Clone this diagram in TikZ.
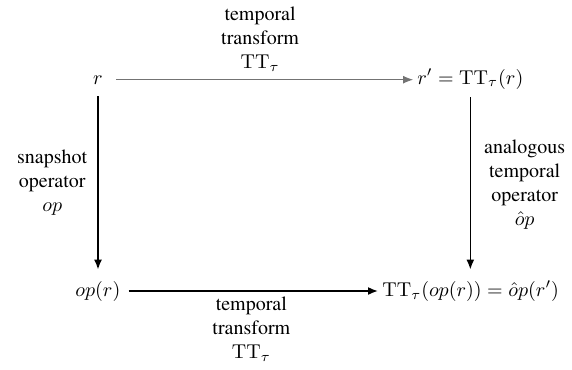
\documentclass[tikz,border=0pt]{standalone}
\usepackage[T1]{fontenc}
\usepackage{times}
\usetikzlibrary{arrows.meta}

\begin{document}
\begin{tikzpicture}[
  x=0.5pt, y=-0.5pt,
  obj/.style={inner sep=2pt, anchor=base},
  lbl/.style={align=center, inner sep=2pt},
  arr/.style={-{Latex[length=5pt,width=4pt]}, line width=0.8pt},
  faintarr/.style={-{Latex[length=5pt,width=4pt]}, line width=0.4pt, draw=black!55, fill=black}]

\useasboundingbox (0,0) rectangle (572,369);

% corners of the square
\node[obj] (r) at (98,84) {$r$};
\node[obj, anchor=base west] (rp) at (413,84) {$r' = \mathrm{TT}_\tau(r)$};
\node[obj, anchor=base west] (opr) at (71,296) {$op(r)$};
\node[obj, anchor=base west] (tto) at (378,296) {$\mathrm{TT}_\tau(op(r)) = \hat{o}p(r')$};

% maps
\draw[faintarr, shorten <=4.5pt] (r.east) -- (r.east -| rp.west)
  node[midway, above=2pt, lbl] {temporal\\transform\\$\mathrm{TT}_\tau$};
\draw[arr, shorten <=2pt] (opr.east) -- (opr.east -| tto.west)
  node[midway, below=0.5pt, lbl] {temporal\\transform\\$\mathrm{TT}_\tau$};
\draw[arr, shorten <=4pt, shorten >=3.5pt] (r.south) -- (r.south |- opr.north)
  node[midway, left=3pt, lbl] {snapshot\\operator\\$op$};
\draw[arr, shorten <=2pt, shorten >=3.5pt] (rp.south) -- (rp.south |- tto.north)
  node[midway, right=4.5pt, lbl] {analogous\\temporal\\operator\\$\hat{o}p$};
\end{tikzpicture}
\end{document}
